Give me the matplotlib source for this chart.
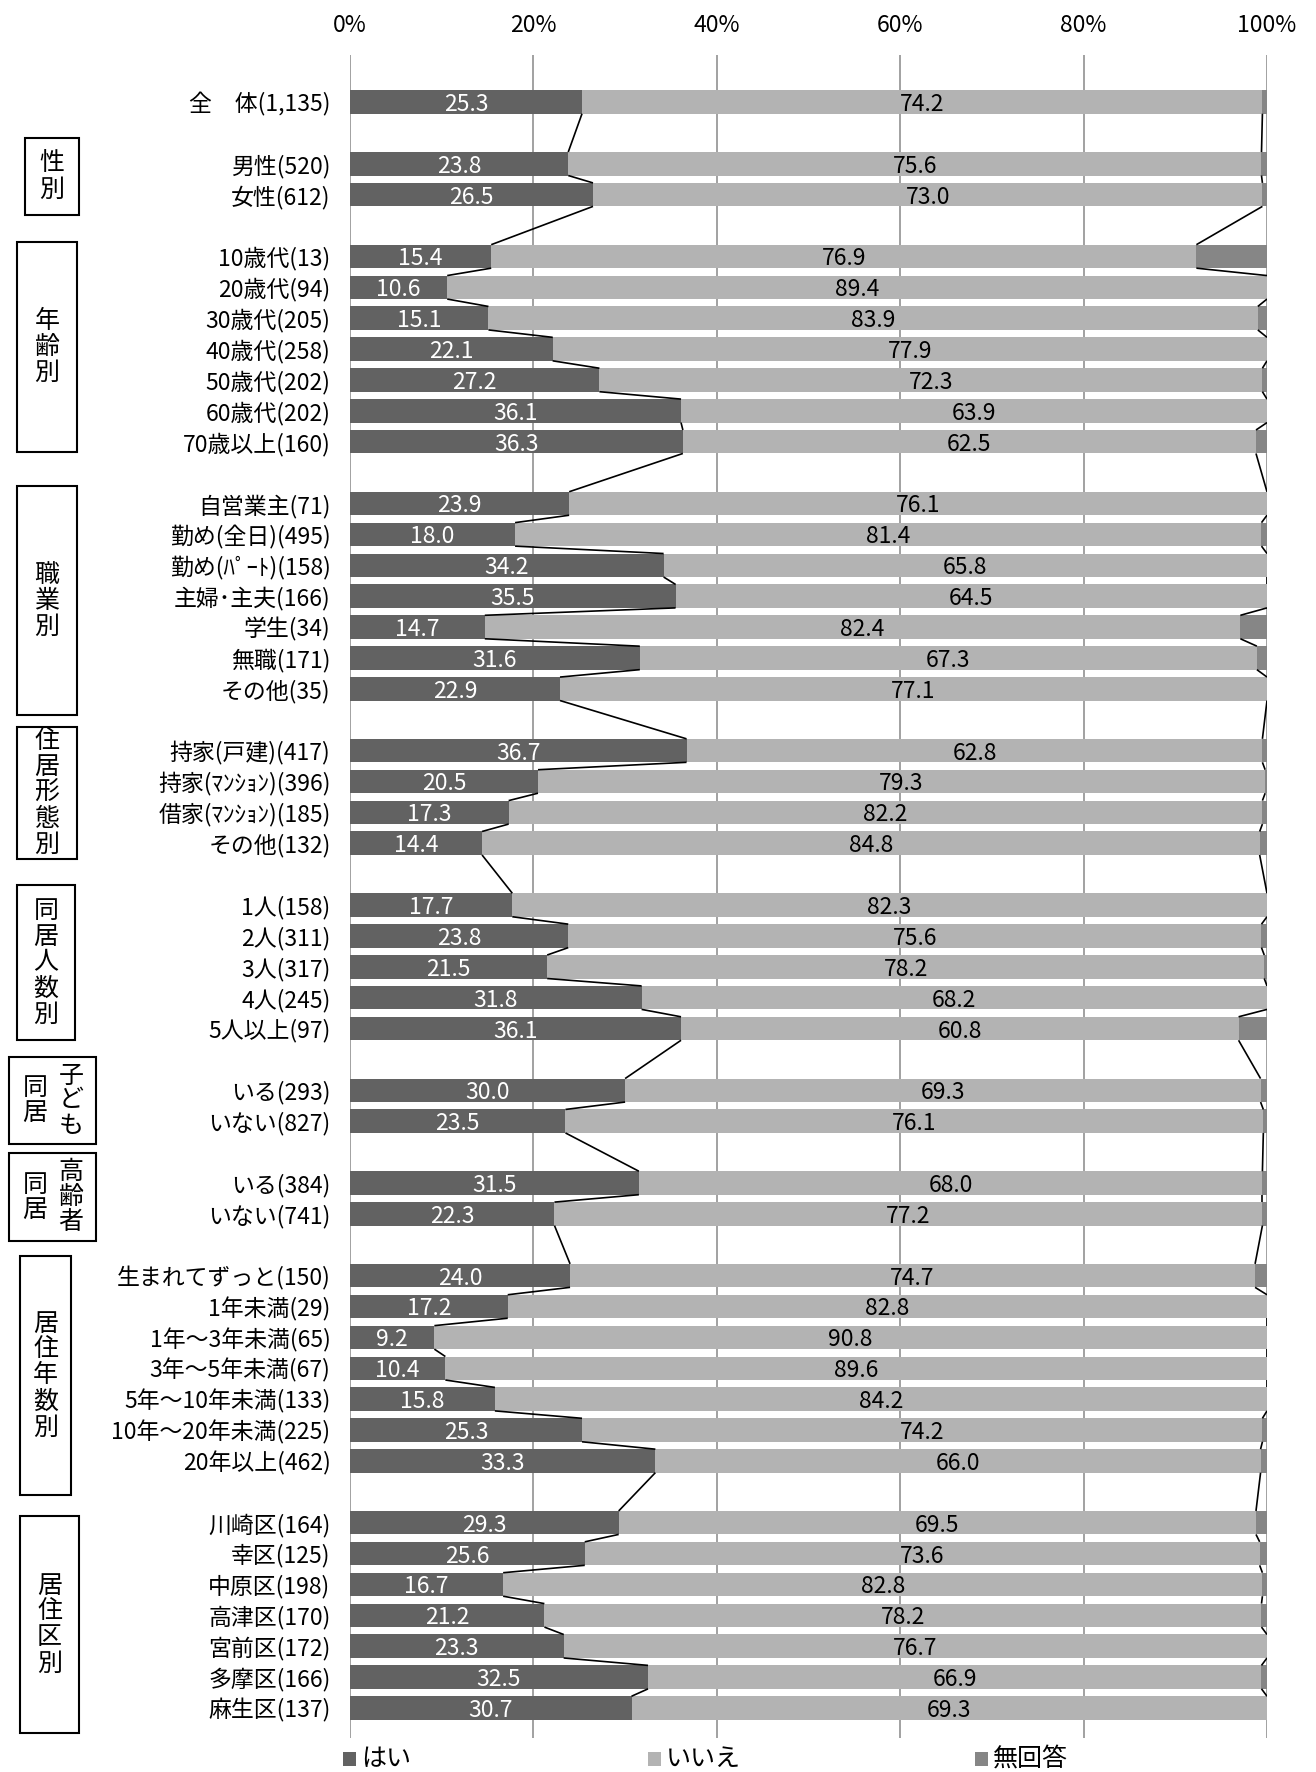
import matplotlib
matplotlib.use('Agg')
import matplotlib.pyplot as plt
from matplotlib.patches import Rectangle

plt.rcParams['font.family'] = ['Noto Sans CJK JP', 'DejaVu Sans']

# ---------------- data ----------------
labels = ['全　体(1,135)',
          '男性(520)', '女性(612)',
          '10歳代(13)', '20歳代(94)', '30歳代(205)', '40歳代(258)', '50歳代(202)', '60歳代(202)', '70歳以上(160)',
          '自営業主(71)', '勤め(全日)(495)', '勤め(ﾊﾟｰﾄ)(158)', '主婦･主夫(166)', '学生(34)', '無職(171)', 'その他(35)',
          '持家(戸建)(417)', '持家(ﾏﾝｼｮﾝ)(396)', '借家(ﾏﾝｼｮﾝ)(185)', 'その他(132)',
          '1人(158)', '2人(311)', '3人(317)', '4人(245)', '5人以上(97)',
          'いる(293)', 'いない(827)',
          'いる(384)', 'いない(741)',
          '生まれてずっと(150)', '1年未満(29)', '1年～3年未満(65)', '3年～5年未満(67)', '5年～10年未満(133)',
          '10年～20年未満(225)', '20年以上(462)',
          '川崎区(164)', '幸区(125)', '中原区(198)', '高津区(170)', '宮前区(172)', '多摩区(166)', '麻生区(137)']

group_sizes = [1, 2, 7, 7, 4, 5, 2, 2, 7, 7]

hai = [25.3,
       23.8, 26.5,
       15.4, 10.6, 15.1, 22.1, 27.2, 36.1, 36.3,
       23.9, 18.0, 34.2, 35.5, 14.7, 31.6, 22.9,
       36.7, 20.5, 17.3, 14.4,
       17.7, 23.8, 21.5, 31.8, 36.1,
       30.0, 23.5,
       31.5, 22.3,
       24.0, 17.2, 9.2, 10.4, 15.8, 25.3, 33.3,
       29.3, 25.6, 16.7, 21.2, 23.3, 32.5, 30.7]

iie = [74.2,
       75.6, 73.0,
       76.9, 89.4, 83.9, 77.9, 72.3, 63.9, 62.5,
       76.1, 81.4, 65.8, 64.5, 82.4, 67.3, 77.1,
       62.8, 79.3, 82.2, 84.8,
       82.3, 75.6, 78.2, 68.2, 60.8,
       69.3, 76.1,
       68.0, 77.2,
       74.7, 82.8, 90.8, 89.6, 84.2, 74.2, 66.0,
       69.5, 73.6, 82.8, 78.2, 76.7, 66.9, 69.3]

muk = [0.5,
       0.6, 0.5,
       7.7, 0.0, 1.0, 0.0, 0.5, 0.0, 1.2,
       0.0, 0.6, 0.0, 0.0, 2.9, 1.1, 0.0,
       0.5, 0.2, 0.5, 0.8,
       0.0, 0.6, 0.3, 0.0, 3.1,
       0.7, 0.4,
       0.5, 0.5,
       1.3, 0.0, 0.0, 0.0, 0.0, 0.5, 0.7,
       1.2, 0.8, 0.5, 0.6, 0.0, 0.6, 0.0]

series_names = ['はい', 'いいえ', '無回答']
xticks = [0, 20, 40, 60, 80, 100]
xtick_labels = ['0%', '20%', '40%', '60%', '80%', '100%']

# ---------------- layout ----------------
W, H = 1316, 1772
C_HAI, C_IIE, C_MUK = '#626262', '#b3b3b3', '#868686'
FS_LAB = 16.5
FS_VAL = 16.5
FS_TICK = 16.5
FS_BOX = 18
FS_LEG = 18

fig = plt.figure(figsize=(W / 100, H / 100), dpi=100)
ax_top, ax_bot = 55, 1738
ax = fig.add_axes([350 / W, 1 - ax_bot / H, (1267 - 350) / W, (ax_bot - ax_top) / H])

# slot positions with gap rows between groups
ypos = []
slot = 0
for n in group_sizes:
    for k in range(n):
        ypos.append(slot)
        slot += 1
    slot += 1
n_slots = ypos[-1]

bh = 0.76
left2 = list(hai)
left3 = [a + b for a, b in zip(hai, iie)]
ax.barh(ypos, hai, height=bh, color=C_HAI, zorder=3)
ax.barh(ypos, iie, left=left2, height=bh, color=C_IIE, zorder=3)
ax.barh(ypos, muk, left=left3, height=bh, color=C_MUK, zorder=3)

# series lines
for i in range(len(ypos) - 1):
    for cum in (left2, left3):
        ax.plot([cum[i], cum[i + 1]], [ypos[i] + bh / 2, ypos[i + 1] - bh / 2],
                color='black', lw=1.2, zorder=4, solid_capstyle='butt')

# value labels
for y, a, b in zip(ypos, hai, iie):
    ax.text(a / 2, y + 0.08, f'{a:.1f}', ha='center', va='center', color='white', fontsize=FS_VAL, zorder=5)
    ax.text(a + b / 2, y + 0.08, f'{b:.1f}', ha='center', va='center', color='black', fontsize=FS_VAL, zorder=5)

ax.set_xlim(0, 100)
slot_px = (1708 - 102) / n_slots
ax.set_ylim(n_slots + (ax_bot - 1708) / slot_px, -(102 - ax_top) / slot_px)
ax.set_yticks(ypos)
ax.set_yticklabels(labels, fontsize=FS_LAB)
ax.tick_params(axis='y', length=0, pad=14)
ax.xaxis.tick_top()
ax.set_xticks(xticks)
ax.set_xticklabels(xtick_labels, fontsize=FS_TICK)
ax.tick_params(axis='x', length=0, pad=13)
for s in ax.spines.values():
    s.set_visible(False)
ax.grid(axis='x', color='#9a9a9a', lw=1.3, zorder=0)
ax.set_axisbelow(True)

# group boxes (pixel layout: x0, x1, y0, y1)
def box(x0, x1, y0, y1):
    fig.add_artist(Rectangle((x0 / W, 1 - y1 / H), (x1 - x0) / W, (y1 - y0) / H,
                             transform=fig.transFigure, fill=False, lw=1.5, ec='black'))

def vtext(cx, cy, s, ls=1.0):
    fig.text(cx / W, 1 - cy / H, '\n'.join(s), ha='center', va='center', fontsize=FS_BOX, linespacing=ls)

single_boxes = [('性別', 25, 79, 138, 215),
                ('年齢別', 17, 77, 242, 452),
                ('職業別', 17, 77, 486, 715),
                ('住居形態別', 17, 77, 727, 859),
                ('同居人数別', 17, 75, 885, 1040),
                ('居住年数別', 20, 71, 1256, 1495),
                ('居住区別', 20, 79, 1516, 1733)]
for t, x0, x1, y0, y1 in single_boxes:
    box(x0, x1, y0, y1)
    vtext((x0 + x1) / 2, (y0 + y1) / 2, t)

double_boxes = [('子ども', '同居', 9, 96, 1057, 1144),
                ('高齢者', '同居', 9, 96, 1153, 1241)]
for t1, t2, x0, x1, y0, y1 in double_boxes:
    box(x0, x1, y0, y1)
    vtext(x0 + 62, (y0 + y1) / 2, t1, ls=0.95)
    vtext(x0 + 26, (y0 + y1) / 2, t2, ls=0.95)

# legend
leg_x = [343, 648, 975]
leg_y = 1759
for name, c, lx in zip(series_names, [C_HAI, C_IIE, C_MUK], leg_x):
    fig.add_artist(Rectangle((lx / W, 1 - (leg_y + 7) / H), 13 / W, 14 / H,
                             transform=fig.transFigure, color=c, lw=0))
    fig.text((lx + 18) / W, 1 - leg_y / H, name, ha='left', va='center', fontsize=FS_LEG)

fig.savefig('out.png', dpi=100)
